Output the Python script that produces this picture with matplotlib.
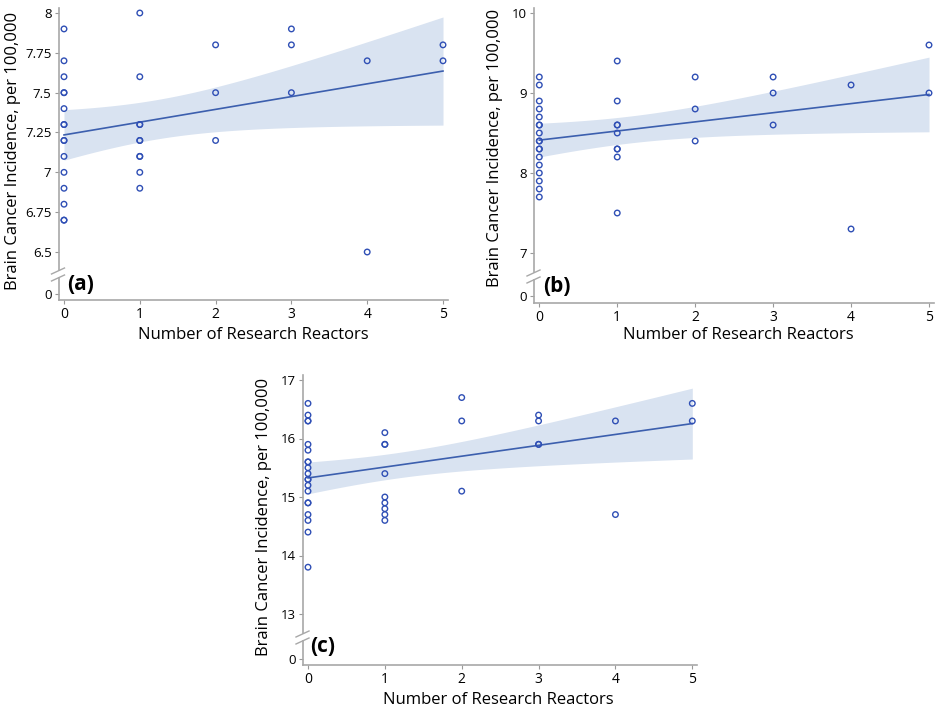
import numpy as np
import matplotlib
matplotlib.use("Agg")
import matplotlib.pyplot as plt
from matplotlib.lines import Line2D

plt.rcParams['font.family'] = ['Open Sans', 'DejaVu Sans']

# ---------------- data ----------------
x_ticks = [0, 1, 2, 3, 4, 5]

a_x = [0]*16 + [1]*10 + [2]*3 + [3]*3 + [4]*2 + [5]*2
a_y = [7.9, 7.7, 7.6, 7.5, 7.5, 7.4, 7.3, 7.3, 7.2, 7.2, 7.1, 7.0, 6.9, 6.8, 6.7, 6.7,
       8.0, 7.6, 7.3, 7.3, 7.2, 7.2, 7.1, 7.1, 7.0, 6.9,
       7.8, 7.5, 7.2,
       7.9, 7.8, 7.5,
       7.7, 6.5,
       7.8, 7.7]
a_yticks = [6.5, 6.75, 7, 7.25, 7.5, 7.75, 8]
a_ytick_labels = ['6.5', '6.75', '7', '7.25', '7.5', '7.75', '8']

b_x = [0]*18 + [1]*9 + [2]*3 + [3]*3 + [4]*2 + [5]*2
b_y = [9.2, 9.1, 8.9, 8.8, 8.7, 8.6, 8.6, 8.5, 8.4, 8.4, 8.3, 8.3, 8.2, 8.1, 8.0, 7.9, 7.8, 7.7,
       9.4, 8.9, 8.6, 8.6, 8.5, 8.3, 8.3, 8.2, 7.5,
       9.2, 8.8, 8.4,
       9.2, 9.0, 8.6,
       9.1, 7.3,
       9.6, 9.0]
b_yticks = [7, 8, 9, 10]
b_ytick_labels = ['7', '8', '9', '10']

c_x = [0]*20 + [1]*9 + [2]*3 + [3]*4 + [4]*2 + [5]*2
c_y = [16.6, 16.4, 16.3, 16.3, 15.9, 15.8, 15.6, 15.6, 15.5, 15.4, 15.3, 15.3, 15.2, 15.1,
       14.9, 14.9, 14.7, 14.6, 14.4, 13.8,
       16.1, 15.9, 15.9, 15.4, 15.0, 14.9, 14.8, 14.7, 14.6,
       16.7, 16.3, 15.1,
       16.4, 16.3, 15.9, 15.9,
       16.3, 14.7,
       16.6, 16.3]
c_yticks = [13, 14, 15, 16, 17]
c_ytick_labels = ['13', '14', '15', '16', '17']

panel_labels = ['(a)', '(b)', '(c)']
x_label = 'Number of Research Reactors'
y_label = 'Brain Cancer Incidence, per 100,000'

# ---------------- style ----------------
W, H = 943, 710
PT_COLOR = '#2f4fb5'
LINE_COLOR = '#3c5fae'
BAND_COLOR = '#d9e3f1'
SPINE = '#a8a8a8'
TICKFS = 9.5
LABELFS = 12

fig = plt.figure(figsize=(W / 100, H / 100), dpi=100)


def fx(px):
    return px / W


def fy(py):
    return 1 - py / H


def t_crit(nu):
    z = 1.959964
    return z + (z**3 + z) / (4 * nu) + (5 * z**5 + 16 * z**3 + 3 * z) / (96 * nu**2)


def panel(xs, ys, yticks, yticklabels, label,
          ax_left, ax_right, x0_px, x5_px,
          top_px, brk_top, brk_bot, bottom_px, zero_px,
          tick_lo_px, tick_hi_px, lab_x, lab_y, xl_xy, yl_xy):
    xs = np.asarray(xs, float)
    ys = np.asarray(ys, float)
    per_x = (x5_px - x0_px) / 5
    xlim = (-(x0_px - ax_left) / per_x, 5 + (ax_right - x5_px) / per_x)
    per_y = (tick_lo_px - tick_hi_px) / (yticks[-1] - yticks[0])
    ylim = (yticks[0] - (brk_top - tick_lo_px) / per_y,
            yticks[-1] + (tick_hi_px - top_px) / per_y)

    ax = fig.add_axes([fx(ax_left), fy(brk_top), fx(ax_right - ax_left),
                       (brk_top - top_px) / H])
    ax2 = fig.add_axes([fx(ax_left), fy(bottom_px), fx(ax_right - ax_left),
                        (bottom_px - brk_bot) / H])
    for a in (ax, ax2):
        a.set_xlim(*xlim)
        a.patch.set_alpha(0)
        for s in ('top', 'right'):
            a.spines[s].set_visible(False)
        a.spines['left'].set_color(SPINE)
        a.spines['left'].set_linewidth(1.2)
        a.tick_params(axis='both', colors='#999999', length=3, width=0.8,
                      labelcolor='black', labelsize=TICKFS, pad=2)
    ax.spines['bottom'].set_visible(False)
    ax.set_xticks([])
    ax.set_ylim(*ylim)
    ax.set_yticks(yticks)
    ax.set_yticklabels(yticklabels)

    hb = bottom_px - brk_bot
    z = bottom_px - zero_px
    ax2.set_ylim(-z, hb - z)
    ax2.set_yticks([0])
    ax2.set_yticklabels(['0'])
    ax2.spines['bottom'].set_color(SPINE)
    ax2.spines['bottom'].set_linewidth(1.2)
    ax2.set_xticks(x_ticks)
    ax2.set_xticklabels([str(v) for v in x_ticks])
    ax2.tick_params(axis='x', labelsize=TICKFS + 0.5)

    # regression with 95% CI of the mean
    n = len(xs)
    b, a0 = np.polyfit(xs, ys, 1)
    resid = ys - (a0 + b * xs)
    s = np.sqrt(np.sum(resid**2) / (n - 2))
    sxx = np.sum((xs - xs.mean())**2)
    gx = np.linspace(0, 5, 200)
    gy = a0 + b * gx
    half = t_crit(n - 2) * s * np.sqrt(1 / n + (gx - xs.mean())**2 / sxx)
    ax.fill_between(gx, gy - half, gy + half, color=BAND_COLOR, lw=0, zorder=1)
    ax.plot(gx, gy, color=LINE_COLOR, lw=1.2, zorder=2)
    ax.scatter(xs, ys, s=16, facecolors='none', edgecolors=PT_COLOR,
               linewidths=1.0, zorder=3, clip_on=False)

    # break marks
    for dy in (0, 7):
        fig.add_artist(Line2D([fx(ax_left - 7), fx(ax_left + 6)],
                              [fy(brk_top + 4 + dy), fy(brk_top - 2 + dy)],
                              color=SPINE, lw=1.0))

    fig.text(fx(lab_x), fy(lab_y), label, fontsize=15, fontweight='bold',
             ha='left', va='center')
    fig.text(fx(xl_xy[0]), fy(xl_xy[1]), x_label, fontsize=LABELFS,
             ha='center', va='center')
    fig.text(fx(yl_xy[0]), fy(yl_xy[1]), y_label, fontsize=LABELFS,
             ha='center', va='center', rotation=90)


panel(a_x, a_y, a_yticks, a_ytick_labels, panel_labels[0],
      58.5, 448, 64, 443, 8, 270, 278, 300, 294, 252, 13,
      67, 284, (253, 335), (13, 151))
panel(b_x, b_y, b_yticks, b_ytick_labels, panel_labels[1],
      534, 934, 539.3, 929, 8, 272, 280, 303, 296, 253, 13,
      543, 286, (738, 335), (495, 148))
panel(c_x, c_y, c_yticks, c_ytick_labels, panel_labels[2],
      303, 697, 308, 692.3, 375, 633, 641, 665, 659, 614, 380,
      310, 647, (498, 700), (264, 517))

fig.savefig('out.png', dpi=100)
